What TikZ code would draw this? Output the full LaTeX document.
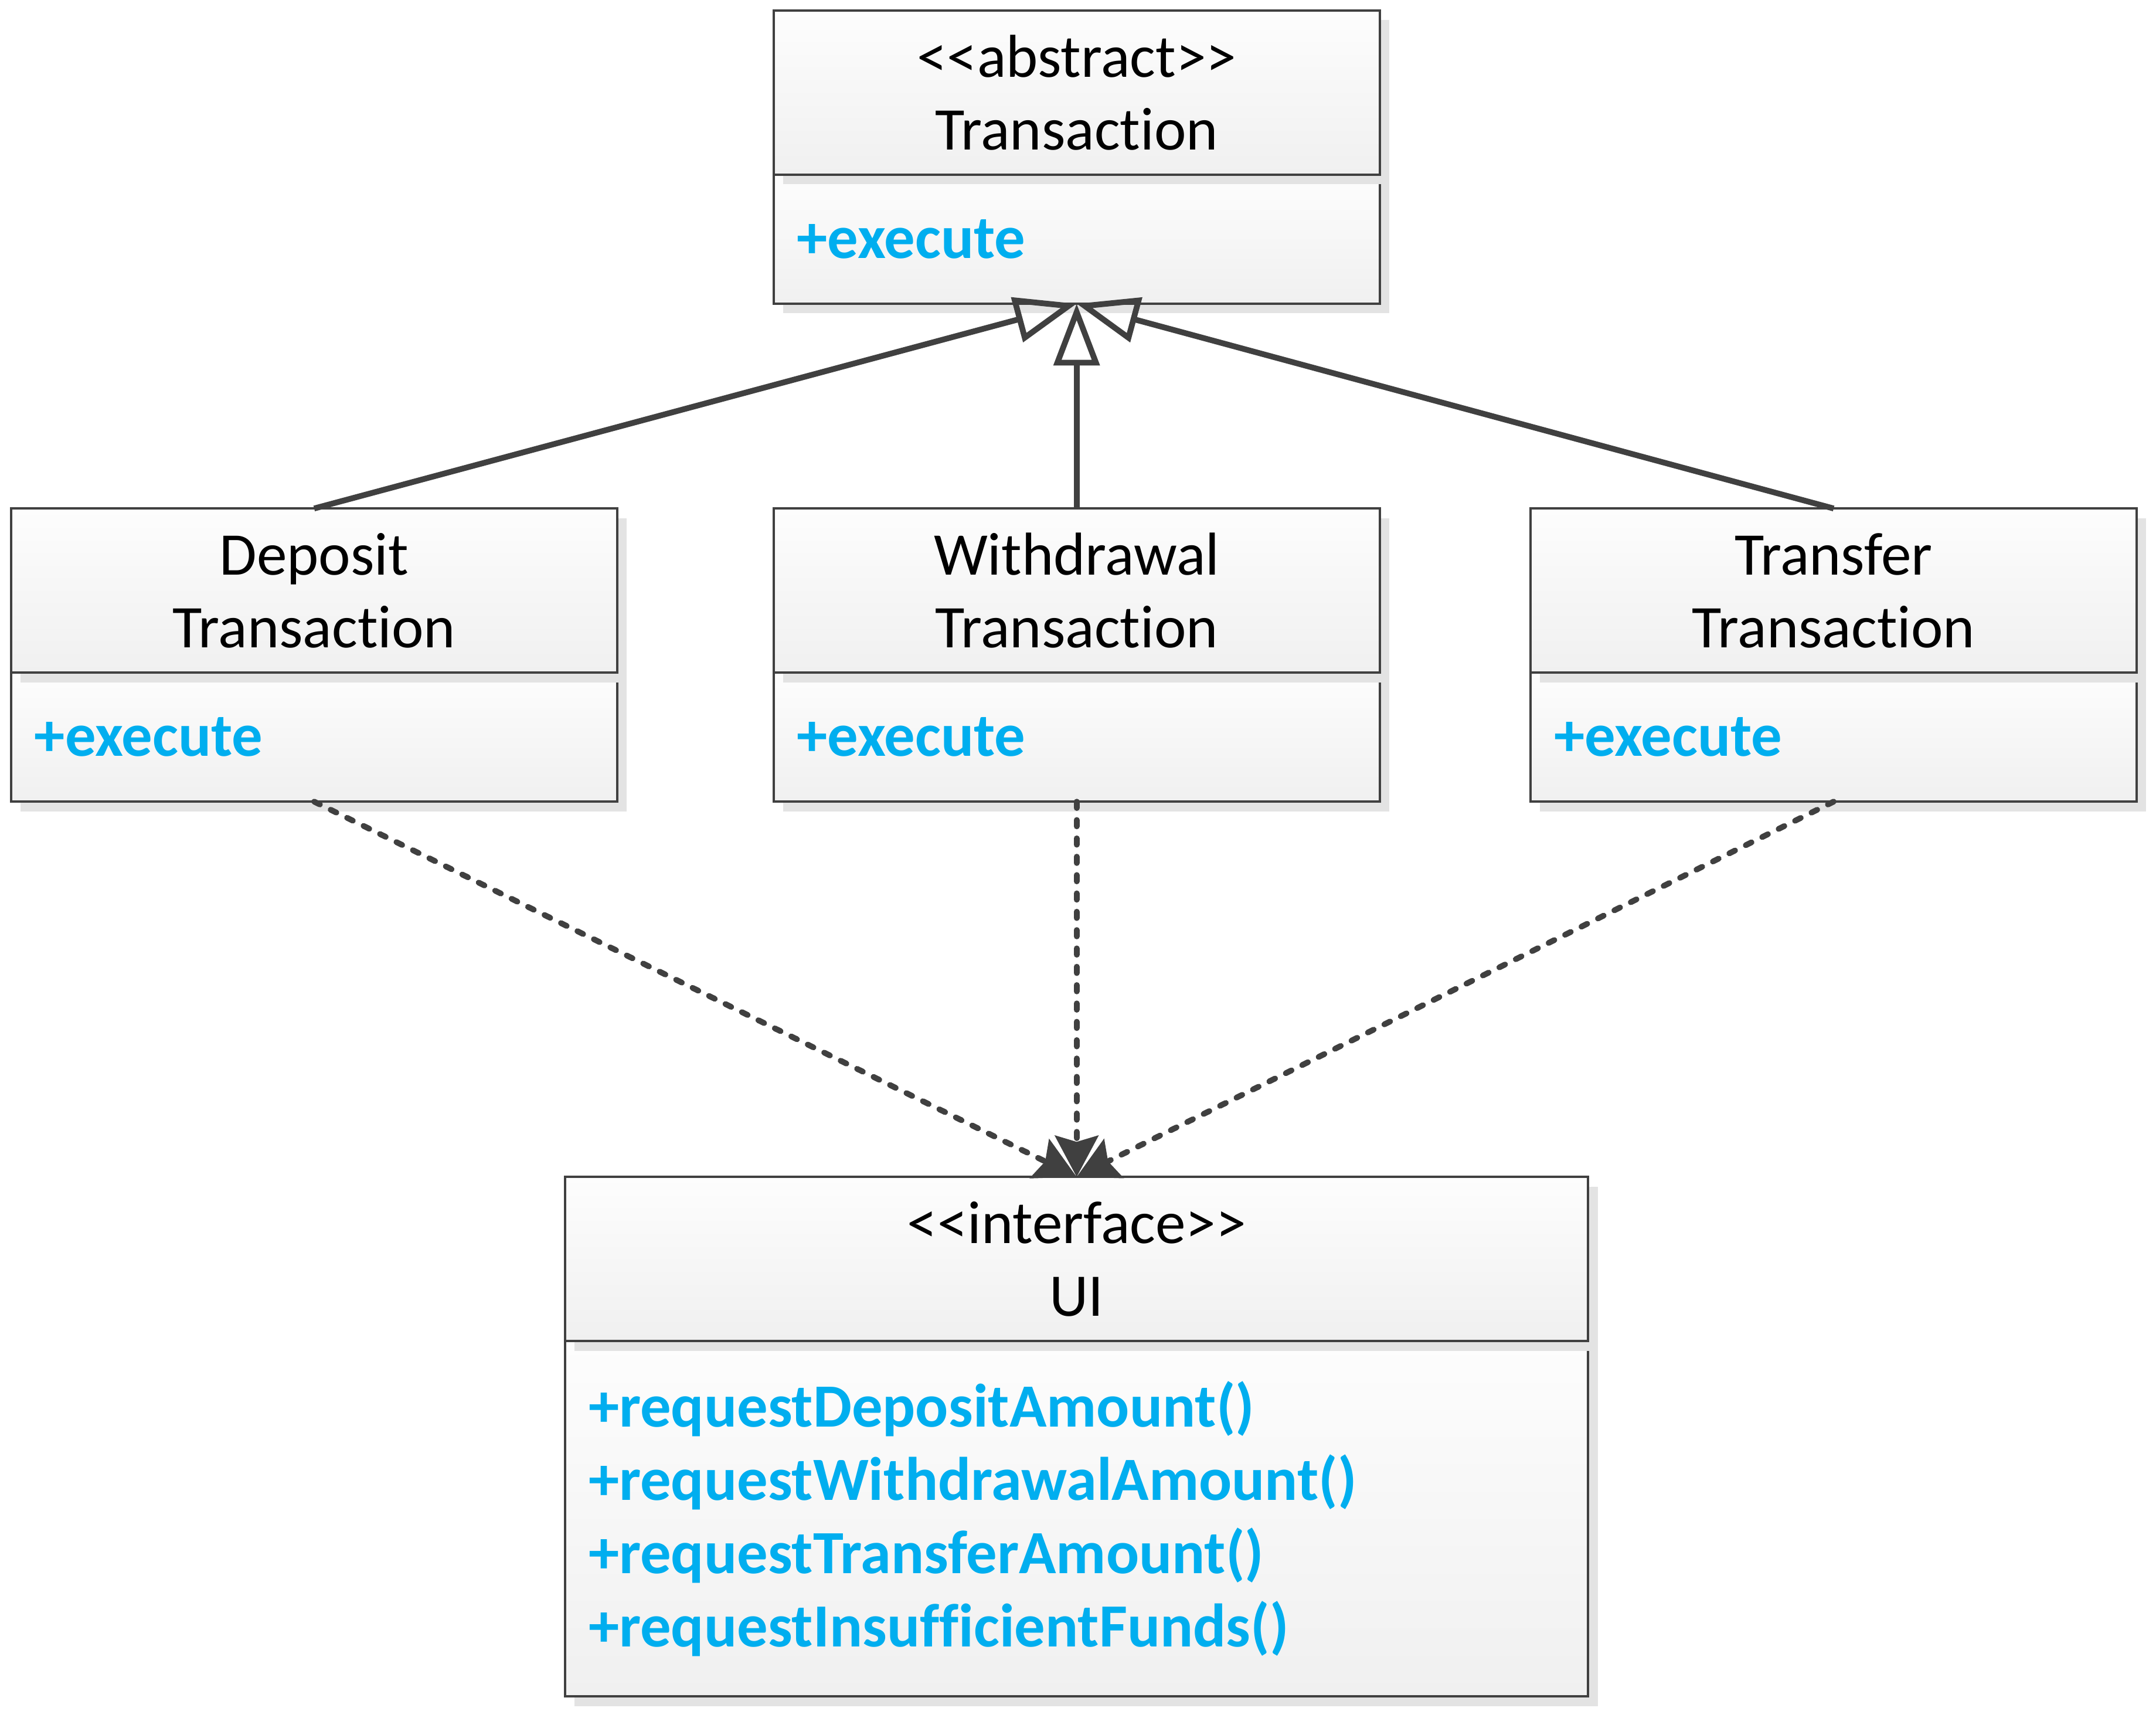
\documentclass[tikz,border=0pt]{standalone}
\usepackage{fontspec}
\usepackage{xcolor}
\newfontfamily\umlfont{Carlito}[Ligatures=NoCommon]
\usetikzlibrary{positioning}
\usetikzlibrary{arrows.meta}
\usetikzlibrary{shadows}
\definecolor{linegray}{RGB}{64,64,64}
\definecolor{boxtop}{RGB}{253,253,253}
\definecolor{boxbot}{RGB}{240,240,240}
\definecolor{shadowgray}{RGB}{227,227,227}
\definecolor{opblue}{RGB}{0,174,239}
\def\namefont{\umlfont\fontsize{14.7}{17.6}\selectfont}
\def\opfont{\umlfont\bfseries\fontsize{14.9}{17.8}\selectfont}
\tikzset{
wire/.style={draw=linegray, line width=1.4pt},
umlshadow/.style={
	drop shadow={shadow xshift=0.082cm, shadow yshift=-0.082cm,
		fill=shadowgray, opacity=1}
},
head/.style={draw=linegray, line width=0.6pt, top color=boxtop, bottom color=boxbot,
	umlshadow, minimum width=#1, minimum height=1.4cm, inner sep=0pt, outer sep=0pt,
	align=center, font=\namefont},
ops/.style 2 args={draw=linegray, line width=0.6pt, top color=boxtop, bottom color=boxbot,
	umlshadow, text width=#1, minimum height=#2, inner xsep=0.2cm, inner ysep=0pt,
	outer sep=0pt, anchor=north, align=left, font=\opfont, text=opblue},
inherit/.style={wire, line join=round,
	-{Triangle[open, length=15pt, width=11pt]}},
depend/.style={wire, line cap=round, dash pattern=on 1.55pt off 2.9pt,
	-{Stealth[length=10pt, width=10.5pt, inset=1.5pt]}},
}

\begin{document}
\begin{tikzpicture}
\useasboundingbox (0,0) rectangle (18.391,-14.65);
%Place the nodes
\node[ops={4.77cm}{1.1cm}] (absop) at (9.184,-1.49) {+execute};
\node[head=5.17cm, above=0pt of absop] (abs) {<<abstract>>\\Transaction};

\node[ops={4.77cm}{1.1cm}] (depop) at (2.68,-5.736) {+execute};
\node[head=5.17cm, above=0pt of depop] (dep) {Deposit\\Transaction};

\node[ops={4.77cm}{1.1cm}] (wdop) at (9.184,-5.736) {+execute};
\node[head=5.17cm, above=0pt of wdop] (wd) {Withdrawal\\Transaction};

\node[ops={4.77cm}{1.1cm}] (trop) at (15.641,-5.736) {+execute};
\node[head=5.17cm, above=0pt of trop] (tr) {Transfer\\Transaction};

\node[ops={8.327cm}{3.03cm}] (uiop) at (9.184,-11.436) {+requestDepositAmount()\\+requestWithdrawalAmount()\\+requestTransferAmount()\\+requestInsufficientFunds()};
\node[head=8.727cm, above=0pt of uiop] (ui) {<<interface>>\\UI};

%
\draw[inherit] (dep.north) -- (absop.south);
\draw[inherit] (wd.north) -- (absop.south);
\draw[inherit] (tr.north) -- (absop.south);

%
\draw[depend] (depop.south) -- (ui.north);
\draw[depend] (wdop.south) -- (ui.north);
\draw[depend] (trop.south) -- (ui.north);

\end{tikzpicture}
\end{document}
